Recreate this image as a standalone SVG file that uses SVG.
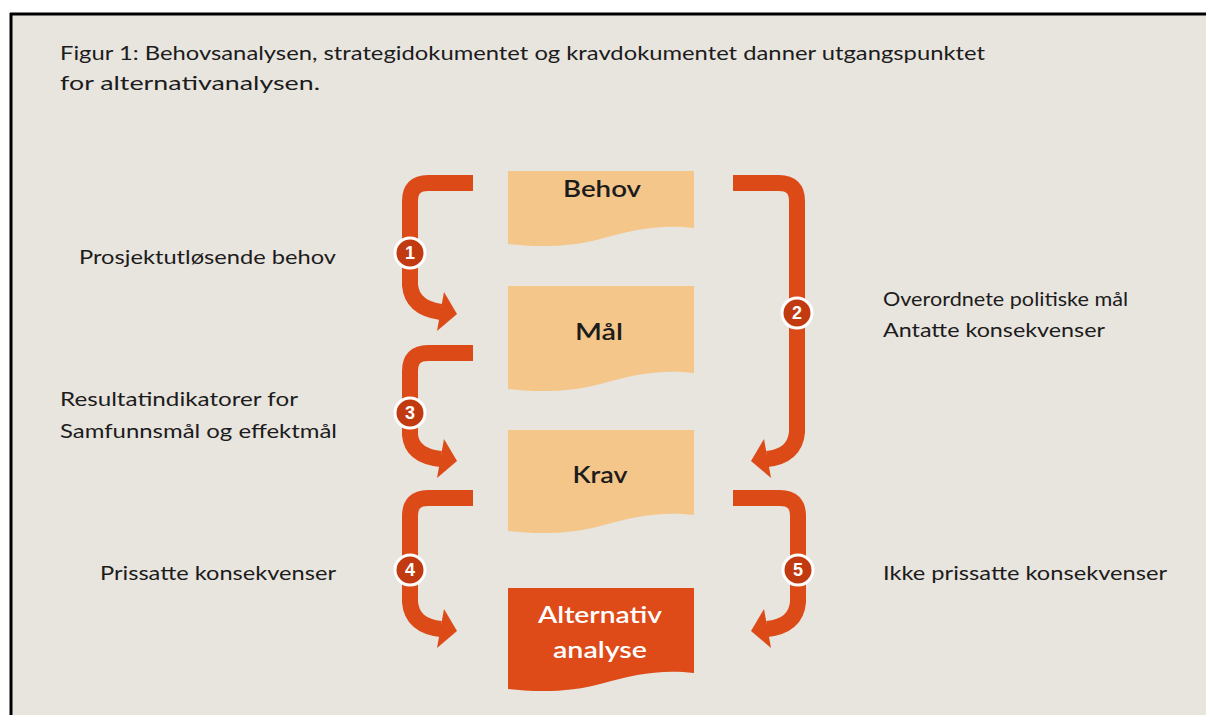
<svg xmlns="http://www.w3.org/2000/svg" width="1206" height="715" viewBox="0 0 1206 715">
<defs>
<style>
.t{font-family:Lato,"Open Sans","Liberation Sans",sans-serif;fill:#1c1c1c;font-size:20px}
.bl{font-family:Lato,"Open Sans","Liberation Sans",sans-serif;fill:#1c1c1c;font-size:22px;font-weight:600;text-anchor:middle}
.wl{font-family:Lato,"Open Sans","Liberation Sans",sans-serif;fill:#ffffff;font-size:23px;font-weight:600;text-anchor:middle}
.doc{fill:#f5c68a}
.alt{fill:#de4a18}
.sh{fill:none;stroke:#dc4a17;stroke-width:16}
.hd{fill:#dc4a17}
.c{fill:#c13a10;stroke:#ffffff;stroke-width:3}
.n{font-family:"Liberation Sans",Arial,sans-serif;fill:#ffffff;font-size:18px;font-weight:bold;text-anchor:middle}
</style>
</defs>
<rect x="0" y="0" width="1206" height="715" fill="#ffffff"/>
<rect x="11" y="14" width="1195" height="701" fill="#e8e4de"/>
<line x1="10" y1="14" x2="1206" y2="14" stroke="#000" stroke-width="3"/>
<line x1="11" y1="13" x2="11" y2="715" stroke="#000" stroke-width="3"/>

<g id="title">
<text class="t" x="60" y="60" textLength="925" lengthAdjust="spacingAndGlyphs">Figur 1: Behovsanalysen, strategidokumentet  og kravdokumentet danner utgangspunktet</text>
<text class="t" x="60" y="90" textLength="260" lengthAdjust="spacingAndGlyphs">for alternativanalysen.</text>
</g>

<g id="node-behov">
<path class="doc" d="M508,171 H694 V228 C660,224 632,230 604,238 C570,248 535,247 508,244 Z"/>
<text class="bl" x="602" y="197" textLength="78" lengthAdjust="spacingAndGlyphs">Behov</text>
</g>
<g id="node-mal">
<path class="doc" d="M508,286 H694 V373 C660,369 632,375 604,383 C570,393 535,392 508,389 Z"/>
<text class="bl" x="599" y="340" textLength="48" lengthAdjust="spacingAndGlyphs">Mål</text>
</g>
<g id="node-krav">
<path class="doc" d="M508,430 H694 V515 C660,511 632,517 604,525 C570,535 535,534 508,531 Z"/>
<text class="bl" x="600" y="483" textLength="55" lengthAdjust="spacingAndGlyphs">Krav</text>
</g>
<g id="node-alternativ">
<path class="alt" d="M508,588 H694 V673 C660,669 632,675 604,683 C570,693 535,692 508,689 Z"/>
<text class="wl" x="600" y="623" textLength="124" lengthAdjust="spacingAndGlyphs">Alternativ</text>
<text class="wl" x="600" y="658" textLength="94" lengthAdjust="spacingAndGlyphs">analyse</text>
</g>

<g id="connectors">
<path class="sh" d="M473,183 H428 Q410,183 410,201 V240"/>
<path class="sh" d="M410,266 V285 Q412,308 441,312"/>
<polygon class="hd" points="444,292 457,314 437,331"/>

<path class="sh" d="M473,353 H428 Q410,353 410,371 V400"/>
<path class="sh" d="M410,426 V435 Q412,456 441,459"/>
<polygon class="hd" points="444,439 457,461 437,478"/>

<path class="sh" d="M473,498 H428 Q410,498 410,516 V556"/>
<path class="sh" d="M410,584 V602 Q412,626 441,629"/>
<polygon class="hd" points="444,609 457,631 437,648"/>

<path class="sh" d="M733,183 H779 Q797,183 797,201 V300"/>
<path class="sh" d="M797,326 V432 Q795,456 767,459"/>
<polygon class="hd" points="764,439 751,461 771,478"/>

<path class="sh" d="M733,498 H780 Q798,498 798,516 V556"/>
<path class="sh" d="M798,584 V602 Q796,626 767,629"/>
<polygon class="hd" points="764,609 751,631 771,648"/>
</g>

<g id="badge-1"><circle class="c" cx="410" cy="253" r="15"/><text class="n" x="410" y="259">1</text></g>
<g id="badge-2"><circle class="c" cx="797" cy="313" r="15"/><text class="n" x="797" y="319">2</text></g>
<g id="badge-3"><circle class="c" cx="410" cy="413" r="15"/><text class="n" x="410" y="419">3</text></g>
<g id="badge-4"><circle class="c" cx="410" cy="570" r="15"/><text class="n" x="410" y="576">4</text></g>
<g id="badge-5"><circle class="c" cx="798" cy="570" r="15"/><text class="n" x="798" y="576">5</text></g>

<g id="labels">
<text class="t" x="79" y="264" textLength="257" lengthAdjust="spacingAndGlyphs">Prosjektutløsende behov</text>
<text class="t" x="60" y="406" textLength="238" lengthAdjust="spacingAndGlyphs">Resultatindikatorer for</text>
<text class="t" x="60" y="438" textLength="277" lengthAdjust="spacingAndGlyphs">Samfunnsmål og effektmål</text>
<text class="t" x="100" y="580" textLength="236" lengthAdjust="spacingAndGlyphs">Prissatte konsekvenser</text>
<text class="t" x="883" y="306" textLength="245" lengthAdjust="spacingAndGlyphs">Overordnete politiske mål</text>
<text class="t" x="883" y="337" textLength="222" lengthAdjust="spacingAndGlyphs">Antatte konsekvenser</text>
<text class="t" x="883" y="580" textLength="284" lengthAdjust="spacingAndGlyphs">Ikke prissatte konsekvenser</text>
</g>
</svg>
